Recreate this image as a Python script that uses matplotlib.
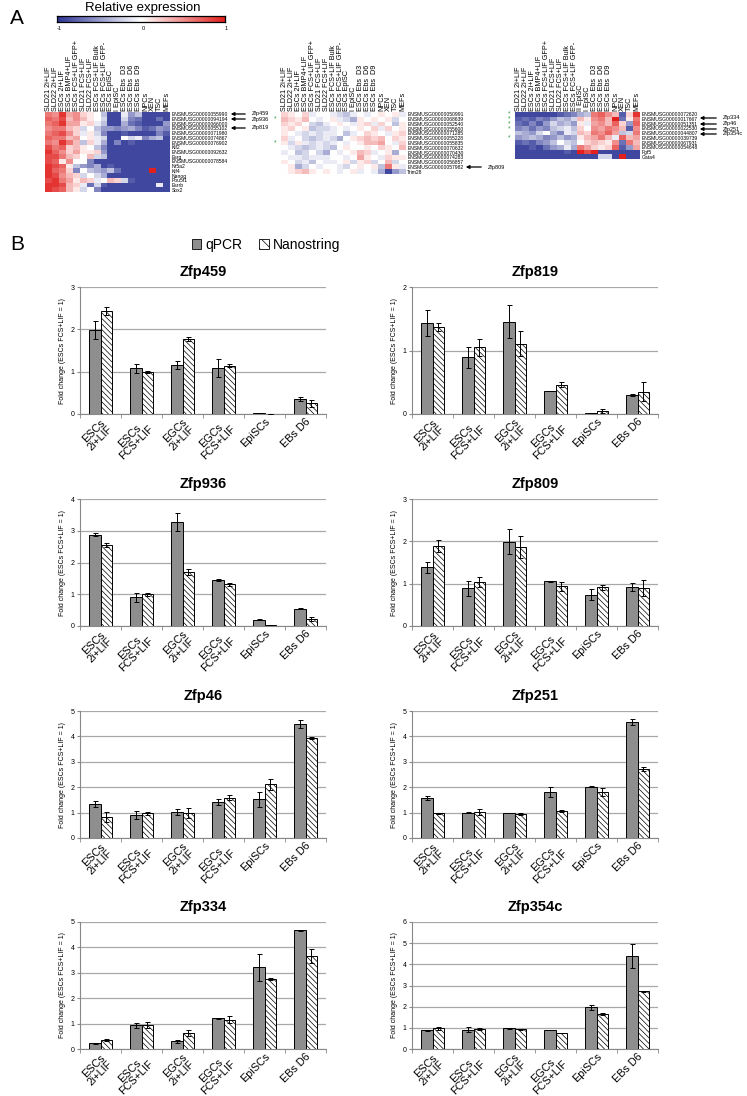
import matplotlib
matplotlib.use("Agg")
import matplotlib.pyplot as plt
import numpy as np
from matplotlib.colors import LinearSegmentedColormap
from matplotlib.patches import Patch

plt.rcParams["font.family"] = ["Liberation Sans", "DejaVu Sans"]
plt.rcParams["hatch.linewidth"] = 0.5
plt.rcParams["hatch.color"] = "#333333"

W, H = 747, 1096

# ## Panel A: heatmap labels and values (relative expression, -1..1)
COLS_A = ["SLD21 2i+LIF", "SLD22 2i+LIF", "ESCs 2i+LIF", "ESCs BMP4+LIF", "ESCs FCS+LIF GFP+",
          "SLD21 FCS+LIF", "SLD22 FCS+LIF", "ESCs FCS+LIF Bulk", "ESCs FCS+LIF GFP-",
          "ESCs EpiSC", "I EpiSC", "ESCs Ebs  D3", "ESCs Ebs  D6", "ESCs Ebs  D9",
          "NPCs", "XEN", "TSC", "MEFs"]
COLS_C = COLS_A[:9] + ["II EpiSC", "I EpiSC"] + COLS_A[11:]

ROWS_LEFT = ["ENSMUSG00000055990", "ENSMUSG00000094194", "ENSMUSG00000066000", "ENSMUSG00000055102",
             "ENSMUSG00000071980", "ENSMUSG00000074867", "ENSMUSG00000076902", "Klf2",
             "ENSMUSG00000092632", "Esrg", "ENSMUSG00000078584", "Nr5a2", "Klf4", "Nanog",
             "Pou5f1", "Esrrb", "Sox2"]
ROWS_MID = ["ENSMUSG00000050991", "ENSMUSG00000068639", "ENSMUSG00000052540", "ENSMUSG00000055600",
            "ENSMUSG00000071285", "ENSMUSG00000055228", "ENSMUSG00000055835", "ENSMUSG00000070632",
            "ENSMUSG00000070430", "ENSMUSG00000074283", "ENSMUSG00000056857", "ENSMUSG00000057982",
            "Trim28"]
ROWS_RIGHT = ["ENSMUSG00000072620", "ENSMUSG00000017667", "ENSMUSG00000051351", "ENSMUSG00000022530",
              "ENSMUSG00000044807", "ENSMUSG00000039739", "ENSMUSG00000067931", "ENSMUSG00000054648",
              "Fgf5", "Gata4"]

HEAT_LEFT = [
    [0.6, 0.5, 0.9, 0.4, 0.5, 0.2, 0.1, 0.0, -0.3, -0.9, -0.9, -0.1, -0.5, -0.3, -0.9, -0.9, -0.9, -0.9],
    [0.7, 0.6, 0.8, 0.3, 0.5, 0.3, 0.1, 0.0, -0.2, -0.9, -0.9, -0.2, -0.6, -0.7, -0.9, -0.9, -0.7, -0.9],
    [0.6, 0.7, 0.9, 0.4, 0.4, 0.1, 0.2, -0.1, -0.3, -0.9, -0.9, -0.4, -0.7, -0.8, -0.9, -0.9, -0.9, -0.5],
    [0.5, 0.6, 0.6, 0.3, 0.2, -0.2, 0.0, -0.3, -0.5, -0.5, -0.6, -0.5, -0.4, -0.6, -0.8, -0.7, -0.5, -0.6],
    [0.6, 0.7, 0.8, 0.5, 0.2, -0.1, 0.1, -0.2, -0.6, -0.9, -0.9, -0.8, -0.9, -0.9, -0.9, -0.9, -0.6, -0.8],
    [0.7, 0.6, 0.6, 0.3, 0.4, 0.0, 0.1, -0.1, -0.2, -0.9, -0.9, 0.0, -0.2, -0.1, -0.6, -0.4, -0.3, -0.9],
    [0.6, 0.5, 0.9, 0.6, 0.3, -0.3, 0.2, -0.1, -0.4, -0.9, -0.6, -0.9, -0.8, -0.9, -0.9, -0.9, -0.9, -0.9],
    [0.8, 0.6, 0.7, 0.2, 0.3, 0.1, 0.0, -0.3, -0.6, -0.9, -0.9, -0.9, -0.9, -0.9, -0.9, -0.9, -0.9, -0.9],
    [0.9, 0.7, 0.5, 0.2, 0.4, 0.1, 0.1, 0.2, -0.5, -0.9, -0.9, -0.9, -0.9, -0.9, -0.9, -0.9, -0.9, -0.9],
    [0.8, 0.8, 0.6, 0.3, 0.2, 0.0, 0.3, -0.2, -0.3, -0.9, -0.9, -0.9, -0.9, -0.9, -0.9, -0.9, -0.9, -0.9],
    [0.8, 0.7, 0.1, 0.5, 0.0, 0.0, -0.6, -0.9, -0.9, -0.9, -0.9, -0.9, -0.9, -0.9, -0.9, -0.9, -0.9, -0.9],
    [0.9, 0.8, 0.7, 0.1, -0.3, -0.5, -0.6, -0.4, -0.9, -0.8, -0.9, -0.9, -0.9, -0.9, -0.9, -0.9, -0.9, -0.9],
    [0.9, 0.7, 0.6, 0.2, -0.6, 0.0, -0.3, -0.4, -0.5, -0.3, -0.7, -0.9, -0.9, -0.9, -0.9, 1.0, -0.9, -0.9],
    [0.9, 0.8, 0.5, 0.3, 0.2, -0.2, 0.0, -0.2, -0.4, -0.9, -0.9, -0.9, -0.9, -0.9, -0.9, -0.9, -0.9, -0.9],
    [0.8, 0.9, 0.6, 0.4, 0.1, 0.3, 0.2, -0.1, 0.0, 0.3, 0.2, -0.2, -0.8, -0.9, -0.9, -0.9, -0.9, -0.9],
    [0.9, 0.9, 0.8, 0.3, 0.2, -0.1, -0.7, -0.2, -0.8, -0.9, -0.9, -0.9, -0.9, -0.9, -0.9, -0.9, -0.1, -0.9],
    [0.9, 0.8, 0.7, 0.3, 0.1, -0.2, 0.0, -0.6, -0.9, -0.9, -0.9, -0.9, -0.9, -0.9, -0.9, -0.9, -0.9, -0.9],
]
HEAT_MID = [
    [0.2, 0.1, 0.0, 0.2, -0.1, 0.0, 0.0, -0.1, -0.2, -0.3, -0.1, 0.0, -0.1, 0.0, 0.1, 0.0, 0.1, -0.1],
    [0.3, 0.2, 0.1, 0.3, 0.0, -0.1, 0.0, 0.1, -0.1, -0.2, -0.4, 0.1, 0.0, 0.1, 0.0, 0.1, -0.2, 0.0],
    [0.2, 0.1, 0.2, 0.0, -0.2, -0.3, -0.1, 0.0, 0.1, 0.0, -0.1, 0.1, 0.2, -0.1, 0.2, 0.0, -0.3, 0.1],
    [0.1, 0.2, 0.0, 0.1, -0.3, -0.2, -0.2, -0.1, 0.0, -0.1, 0.0, 0.1, 0.0, 0.2, -0.1, 0.2, 0.0, 0.1],
    [0.1, 0.0, -0.1, -0.2, -0.1, -0.2, -0.1, -0.1, 0.0, -0.3, -0.1, 0.0, 0.2, 0.1, 0.0, -0.1, 0.1, 0.2],
    [0.2, -0.1, 0.0, -0.2, -0.3, -0.2, -0.1, -0.2, -0.4, 0.0, 0.1, 0.2, 0.3, 0.2, 0.3, 0.0, 0.2, 0.1],
    [0.1, -0.2, 0.1, -0.1, -0.2, -0.1, -0.2, -0.1, 0.0, -0.1, 0.0, 0.1, 0.3, 0.3, 0.4, 0.0, -0.1, 0.2],
    [0.0, -0.1, -0.2, -0.3, -0.2, -0.1, -0.2, -0.3, 0.0, 0.1, 0.0, 0.0, 0.1, 0.0, 0.2, 0.1, 0.0, 0.3],
    [-0.1, 0.0, -0.3, -0.2, 0.0, -0.2, -0.4, 0.0, -0.1, 0.0, 0.1, 0.3, 0.2, -0.1, 0.0, 0.1, -0.4, 0.0],
    [0.0, -0.1, -0.1, -0.2, -0.1, -0.1, -0.1, 0.0, 0.0, -0.1, 0.0, 0.4, 0.1, 0.0, -0.1, 0.2, 0.1, 0.1],
    [0.1, 0.0, -0.2, -0.1, -0.3, 0.0, -0.1, -0.1, 0.0, 0.1, -0.2, 0.1, 0.2, -0.2, 0.0, 0.3, -0.2, 0.0],
    [0.0, 0.1, -0.4, -0.2, 0.0, -0.1, 0.0, 0.0, -0.1, -0.2, 0.0, 0.1, 0.0, 0.1, -0.3, 0.6, 0.1, -0.1],
    [0.0, 0.1, 0.2, 0.3, 0.1, 0.0, 0.1, 0.0, -0.1, 0.0, 0.1, -0.1, 0.0, -0.1, -0.4, -0.9, -0.5, -0.3],
]
HEAT_RIGHT = [
    [-0.9, -0.9, -0.9, -0.9, -0.9, -0.9, -0.8, -0.7, -0.6, -0.4, -0.3, 0.6, 0.7, 0.5, 0.3, -0.8, 0.2, 0.9],
    [-0.8, -0.7, -0.8, -0.6, -0.7, -0.5, -0.3, -0.4, -0.2, 0.3, 0.1, 0.5, 0.6, 0.3, 1.0, -0.7, 0.1, 0.6],
    [-0.7, -0.8, -0.6, -0.8, -0.5, -0.2, -0.4, -0.3, -0.5, 0.1, -0.1, 0.4, 0.5, 0.3, 0.7, 0.2, -0.5, 0.7],
    [-0.6, -0.5, -0.7, -0.5, -0.6, -0.3, -0.2, -0.1, -0.3, 0.2, 0.0, 0.5, 0.4, 0.6, 0.5, 0.3, -0.8, 0.5],
    [-0.3, -0.4, -0.5, -0.2, 0.0, -0.4, -0.6, -0.1, -0.2, 0.3, 0.2, 0.6, 0.5, 0.7, 0.4, -0.3, -0.2, 0.6],
    [-0.5, -0.4, -0.3, -0.4, -0.6, -0.5, -0.3, -0.5, -0.4, 0.1, 0.3, 0.4, 0.6, 0.3, -0.1, 0.7, 0.3, 0.4],
    [-0.8, -0.7, -0.8, -0.6, -0.5, -0.3, 0.0, -0.2, -0.3, 0.0, 0.2, 0.3, 0.2, 0.1, 0.5, -0.7, 0.6, 0.3],
    [-0.9, -0.9, -0.8, -0.9, -0.7, -0.5, -0.4, -0.1, -0.4, 0.6, 0.4, 0.2, 0.1, 0.2, 0.7, -0.8, -0.5, 0.4],
    [-0.9, -0.9, -0.9, -0.9, -0.9, -0.9, -0.9, -0.8, -0.9, 1.0, 0.8, 1.0, -0.9, -0.9, -0.9, -0.9, -0.9, -0.9],
    [-0.9, -0.9, -0.9, -0.9, -0.9, -0.9, -0.9, -0.9, -0.9, -0.9, -0.9, -0.9, -0.2, -0.2, -0.9, 1.0, -0.9, -0.9],
]

# ## Panel B: fold change (ESCs FCS+LIF = 1)
CONDITIONS = ["ESCs\n2i+LIF", "ESCs\nFCS+LIF", "EGCs\n2i+LIF", "EGCs\nFCS+LIF", "EpiSCs", "EBs D6"]

zfp459_qpcr = [1.98, 1.08, 1.16, 1.09, 0.02, 0.36]
zfp459_qpcr_err = [0.22, 0.10, 0.09, 0.22, 0.0, 0.05]
zfp459_nano = [2.43, 0.99, 1.77, 1.14, 0.01, 0.25]
zfp459_nano_err = [0.09, 0.02, 0.05, 0.03, 0.0, 0.08]

zfp819_qpcr = [1.43, 0.89, 1.45, 0.37, 0.01, 0.30]
zfp819_qpcr_err = [0.20, 0.16, 0.26, 0.0, 0.0, 0.02]
zfp819_nano = [1.37, 1.05, 1.11, 0.46, 0.05, 0.35]
zfp819_nano_err = [0.07, 0.13, 0.19, 0.04, 0.03, 0.15]

zfp936_qpcr = [2.88, 0.90, 3.27, 1.46, 0.20, 0.55]
zfp936_qpcr_err = [0.05, 0.15, 0.28, 0.03, 0.02, 0.03]
zfp936_nano = [2.56, 1.00, 1.69, 1.31, 0.02, 0.21]
zfp936_nano_err = [0.06, 0.05, 0.09, 0.06, 0.0, 0.06]

zfp809_qpcr = [1.39, 0.89, 1.99, 1.06, 0.74, 0.92]
zfp809_qpcr_err = [0.13, 0.17, 0.30, 0.01, 0.13, 0.09]
zfp809_nano = [1.88, 1.04, 1.86, 0.94, 0.91, 0.90]
zfp809_nano_err = [0.14, 0.11, 0.26, 0.11, 0.07, 0.18]

zfp46_qpcr = [1.33, 0.90, 1.03, 1.40, 1.53, 4.50]
zfp46_qpcr_err = [0.12, 0.15, 0.12, 0.12, 0.30, 0.15]
zfp46_nano = [0.84, 0.97, 0.97, 1.59, 2.12, 3.93]
zfp46_nano_err = [0.20, 0.05, 0.20, 0.10, 0.22, 0.05]

zfp251_qpcr = [1.57, 0.99, 0.99, 1.82, 2.02, 4.56]
zfp251_qpcr_err = [0.08, 0.02, 0.0, 0.19, 0.03, 0.13]
zfp251_nano = [0.98, 1.01, 0.95, 1.06, 1.82, 2.72]
zfp251_nano_err = [0.02, 0.12, 0.04, 0.04, 0.15, 0.08]

zfp334_qpcr = [0.22, 0.94, 0.30, 1.22, 3.21, 4.68]
zfp334_qpcr_err = [0.02, 0.10, 0.05, 0.02, 0.53, 0.02]
zfp334_nano = [0.36, 0.93, 0.64, 1.15, 2.76, 3.65]
zfp334_nano_err = [0.05, 0.12, 0.12, 0.14, 0.05, 0.28]

zfp354c_qpcr = [0.88, 0.90, 0.97, 0.90, 1.97, 4.40]
zfp354c_qpcr_err = [0.03, 0.12, 0.03, 0.0, 0.12, 0.55]
zfp354c_nano = [0.97, 0.95, 0.93, 0.75, 1.65, 2.72]
zfp354c_nano_err = [0.08, 0.05, 0.03, 0.0, 0.04, 0.04]

PANELS = [
    ("Zfp459", zfp459_qpcr, zfp459_qpcr_err, zfp459_nano, zfp459_nano_err, 3),
    ("Zfp819", zfp819_qpcr, zfp819_qpcr_err, zfp819_nano, zfp819_nano_err, 2),
    ("Zfp936", zfp936_qpcr, zfp936_qpcr_err, zfp936_nano, zfp936_nano_err, 4),
    ("Zfp809", zfp809_qpcr, zfp809_qpcr_err, zfp809_nano, zfp809_nano_err, 3),
    ("Zfp46", zfp46_qpcr, zfp46_qpcr_err, zfp46_nano, zfp46_nano_err, 5),
    ("Zfp251", zfp251_qpcr, zfp251_qpcr_err, zfp251_nano, zfp251_nano_err, 5),
    ("Zfp334", zfp334_qpcr, zfp334_qpcr_err, zfp334_nano, zfp334_nano_err, 5),
    ("Zfp354c", zfp354c_qpcr, zfp354c_qpcr_err, zfp354c_nano, zfp354c_nano_err, 6),
]

CMAP = LinearSegmentedColormap.from_list("rel", ["#2c3595", "#ffffff", "#e1201d"])
GRAY = "#8e8e8e"
HATCH = "\\" * 6

fig = plt.figure(figsize=(W / 100, H / 100), dpi=100)


def px_axes(x0, y0, x1, y1):
    return fig.add_axes([x0 / W, 1 - y1 / H, (x1 - x0) / W, (y1 - y0) / H])


def draw_heatmap(rect, values, col_labels, row_labels):
    ax = px_axes(*rect)
    ax.imshow(np.array(values), cmap=CMAP, vmin=-1, vmax=1, aspect="auto", interpolation="nearest")
    ax.set_xticks(range(len(col_labels)))
    ax.set_xticklabels(col_labels, rotation=90, fontsize=5.2)
    ax.xaxis.tick_top()
    ax.set_yticks(range(len(row_labels)))
    ax.set_yticklabels(row_labels, fontsize=3.6)
    ax.yaxis.tick_right()
    ax.tick_params(length=0, pad=1)
    for s in ax.spines.values():
        s.set_visible(False)
    return ax


def draw_bars(ax, name, qpcr, qerr, nano, nerr, ymax):
    x = np.arange(len(CONDITIONS))
    w = 0.29
    ekw = dict(ecolor="black", elinewidth=0.7, capsize=1.8, capthick=0.7)
    ax.bar(x - w / 2, qpcr, w, yerr=qerr, color=GRAY, edgecolor="black", linewidth=0.7,
           error_kw=ekw, zorder=3)
    ax.bar(x + w / 2, nano, w, yerr=nerr, color="white", edgecolor="black", linewidth=0.7,
           hatch=HATCH, error_kw=ekw, zorder=3)
    ax.set_xlim(-0.5, len(CONDITIONS) - 0.5)
    ax.set_ylim(0, ymax)
    ax.set_yticks(range(ymax + 1))
    ax.yaxis.grid(True, color="#a8a8a8", linewidth=0.9, zorder=0)
    ax.set_axisbelow(True)
    ax.set_xticks(x)
    ax.set_xticklabels(CONDITIONS, rotation=45, ha="right", va="top", rotation_mode="anchor",
                       fontsize=7.8, multialignment="center", linespacing=1.0)
    ax.set_xticks(np.arange(-0.5, len(CONDITIONS), 1), minor=True)
    ax.tick_params(axis="x", which="major", length=0, pad=2)
    ax.tick_params(axis="x", which="minor", length=3, color="#888888")
    ax.tick_params(axis="y", length=2, labelsize=5, pad=2, color="#888888")
    for s in ["top", "right"]:
        ax.spines[s].set_visible(False)
    for s in ["left", "bottom"]:
        ax.spines[s].set_color("#888888")
    ax.set_ylabel("Fold change (ESCs FCS+LIF = 1)", fontsize=5, labelpad=3)
    ax.set_title(name, fontsize=10.5, fontweight="bold", pad=8)


# Panel A
draw_heatmap((45, 112, 170, 192), HEAT_LEFT, COLS_A, ROWS_LEFT)
draw_heatmap((281, 112, 406, 174), HEAT_MID, COLS_A, ROWS_MID)
draw_heatmap((515, 112, 640, 159), HEAT_RIGHT, COLS_C, ROWS_RIGHT)

ax_cb = px_axes(57, 16, 225, 22)
ax_cb.imshow(np.linspace(-1, 1, 256)[None, :], cmap=CMAP, vmin=-1, vmax=1, aspect="auto",
             extent=[-1, 1, 0, 1])
ax_cb.set_xticks([])
ax_cb.set_yticks([])
for s in ax_cb.spines.values():
    s.set_linewidth(0.9)

# Panel B
col_x = [(80, 326), (412, 658)]
row_y = [287, 499, 711, 922]
for i, (name, q, qe, n, ne, ymax) in enumerate(PANELS):
    x0, x1 = col_x[i % 2]
    y0 = row_y[i // 2]
    ax = px_axes(x0, y0, x1, y0 + 127)
    draw_bars(ax, name, q, qe, n, ne, ymax)

handles = [Patch(facecolor=GRAY, edgecolor="black", linewidth=0.6, label="qPCR"),
           Patch(facecolor="white", edgecolor="black", linewidth=0.6, hatch="\\\\\\", label="Nanostring")]
fig.legend(handles=handles, loc="center", bbox_to_anchor=(266 / W, 1 - 245 / H), ncol=2,
           frameon=False, fontsize=10, handlelength=0.7, handleheight=0.7, handletextpad=0.3,
           columnspacing=1.2)

# overlay in pixel coordinates for letters, arrows and marks
ov = fig.add_axes([0, 0, 1, 1])
ov.set_xlim(0, W)
ov.set_ylim(H, 0)
ov.axis("off")
ov.patch.set_alpha(0)

ov.text(10, 18, "A", fontsize=15, ha="left", va="center")
ov.text(10, 245, "B", fontsize=15, ha="left", va="center")
ov.text(143, 8, "Relative expression", fontsize=9.5, ha="center", va="center")
for val, xp in [("-1", 59), ("0", 143), ("1", 226)]:
    ov.text(xp, 29, val, fontsize=4, ha="center", va="center")

arrow_kw = dict(arrowstyle="-|>", color="black", lw=0.9, mutation_scale=5)
arrows = [(248, 228, 114, "Zfp459"), (248, 228, 119, "Zfp936"), (248, 228, 128, "Zfp819"),
          (484, 463, 167, "Zfp809"),
          (719, 697, 118, "Zfp334"), (719, 697, 124, "Zfp46"),
          (719, 697, 129, "Zfp251"), (719, 697, 134, "Zfp354c")]
for x_tail, x_head, yy, lab in arrows:
    ov.annotate("", xy=(x_head, yy), xytext=(x_tail, yy), arrowprops=arrow_kw)
    ov.text(x_tail + 4, yy, lab, fontsize=4, ha="left", va="center")

for xs, ys in [(275, 119), (275, 143), (509, 114), (509, 119), (509, 124), (509, 129), (509, 138)]:
    ov.text(xs, ys, "*", fontsize=5, color="#3aa04a", ha="center", va="center")

fig.savefig("out.png", dpi=100)
